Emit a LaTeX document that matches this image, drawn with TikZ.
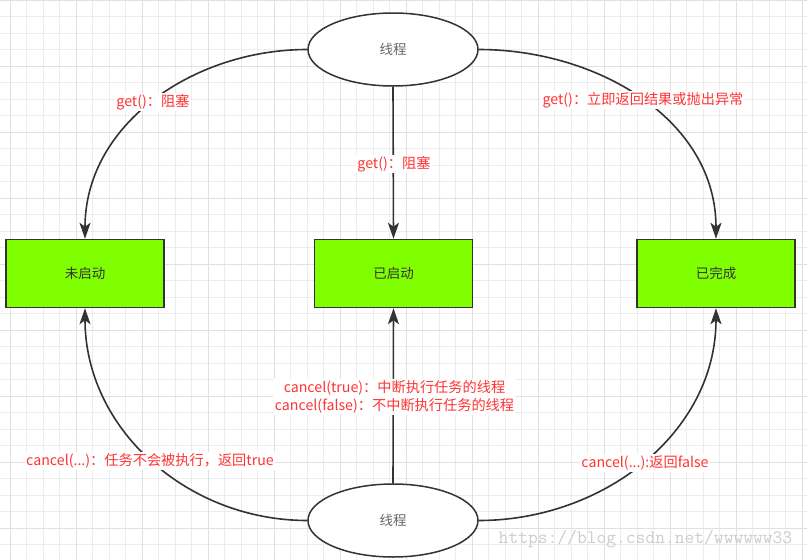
\documentclass[tikz,border=0pt]{standalone}
\usepackage{fontspec}
\setmainfont{Noto Sans CJK SC}
\usetikzlibrary{arrows.meta,shapes.geometric}
\definecolor{gridminor}{RGB}{236,236,236}
\definecolor{gridmajor}{RGB}{224,224,224}
\definecolor{stategreen}{RGB}{128,255,0}
\definecolor{edgegray}{RGB}{51,51,51}
\definecolor{labelred}{RGB}{255,51,51}
\definecolor{markgray}{RGB}{208,205,200}
\tikzset{
	thread/.style={ellipse, draw=edgegray, line width=1.5pt, fill=white, minimum width=170pt, minimum height=73pt, inner sep=0pt, text=black!60, font=\fontsize{13.5}{16}\selectfont},
	state/.style={rectangle, draw=edgegray, line width=1.5pt, fill=stategreen, minimum width=158pt, minimum height=68pt, inner sep=0pt, text=edgegray, font=\fontsize{13.5}{16}\selectfont},
	flow/.style={draw=edgegray, line width=1.6pt, -{Stealth[length=16pt,width=11pt,inset=4pt]}},
	lbl/.style={fill=white, inner sep=1.5pt, text=labelred, font=\fontsize{14.2}{18}\selectfont, align=center}
}

\begin{document}
\begin{tikzpicture}[x=1pt,y=1pt]
			%%%%% START %%%%%
			
			\useasboundingbox (0,0) rectangle (807,-560);
			\fill[white] (0,0) rectangle (807,-560);
			
			% grid
			\foreach \i in {0,...,48}
				\draw[gridminor, line width=0.8pt] ({10+16.5*\i},0) -- ({10+16.5*\i},-560);
			\foreach \j in {0,...,33}
				\draw[gridminor, line width=0.8pt] (0,{-16.5*\j}) -- (807,{-16.5*\j});
			\foreach \i in {0,...,12}
				\draw[gridmajor, line width=1pt] ({10+66*\i},0) -- ({10+66*\i},-560);
			\foreach \j in {0,...,8}
				\draw[gridmajor, line width=1pt] (0,{-66*\j}) -- (807,{-66*\j});
			
			% threads and states
			\node[thread] (top) at (393,-49.5) {线程};
			\node[thread] (bottom) at (393,-520.5) {线程};
			
			\node[state] (notstarted) at (85,-273.5) {未启动};
			\node[state] (started) at (393.5,-273.5) {已启动};
			\node[state] (done) at (716,-273.5) {已完成};
			
			% get()
			\draw[flow] (top.west) to[out=180,in=90] (notstarted.north);
			\draw[flow] (top.south) -- (started.north);
			\draw[flow] (top.east) to[out=0,in=90] (done.north);
			
			% cancel()
			\draw[flow] (bottom.west) to[out=180,in=-90] (notstarted.south);
			\draw[flow] (bottom.north) -- (started.south);
			\draw[flow] (bottom.east) to[out=0,in=-90] (done.south);
			
			% labels
			\node[lbl] (getleft) at (153,-102) {get()：阻塞};
			\node[lbl] (getmid) at (394,-164) {get()：阻塞};
			\node[lbl] (getright) at (643,-100) {get()：立即返回结果或抛出异常};
			\node[lbl] (cancelmid) at (394.5,-397) {cancel(true)：中断执行任务的线程\\cancel(false)：不中断执行任务的线程};
			\node[lbl] (cancelleft) at (150,-461) {cancel(...)：任务不会被执行，返回true};
			\node[lbl] (cancelright) at (645,-463) {cancel(...):返回false};
			
			\node[text=markgray, font=\ttfamily\fontsize{19}{20}\selectfont] (mark) at (645.5,-539) {https://blog.csdn.net/wwwwww33};
			
			%%%%% END %%%%%
\end{tikzpicture}
\end{document}
